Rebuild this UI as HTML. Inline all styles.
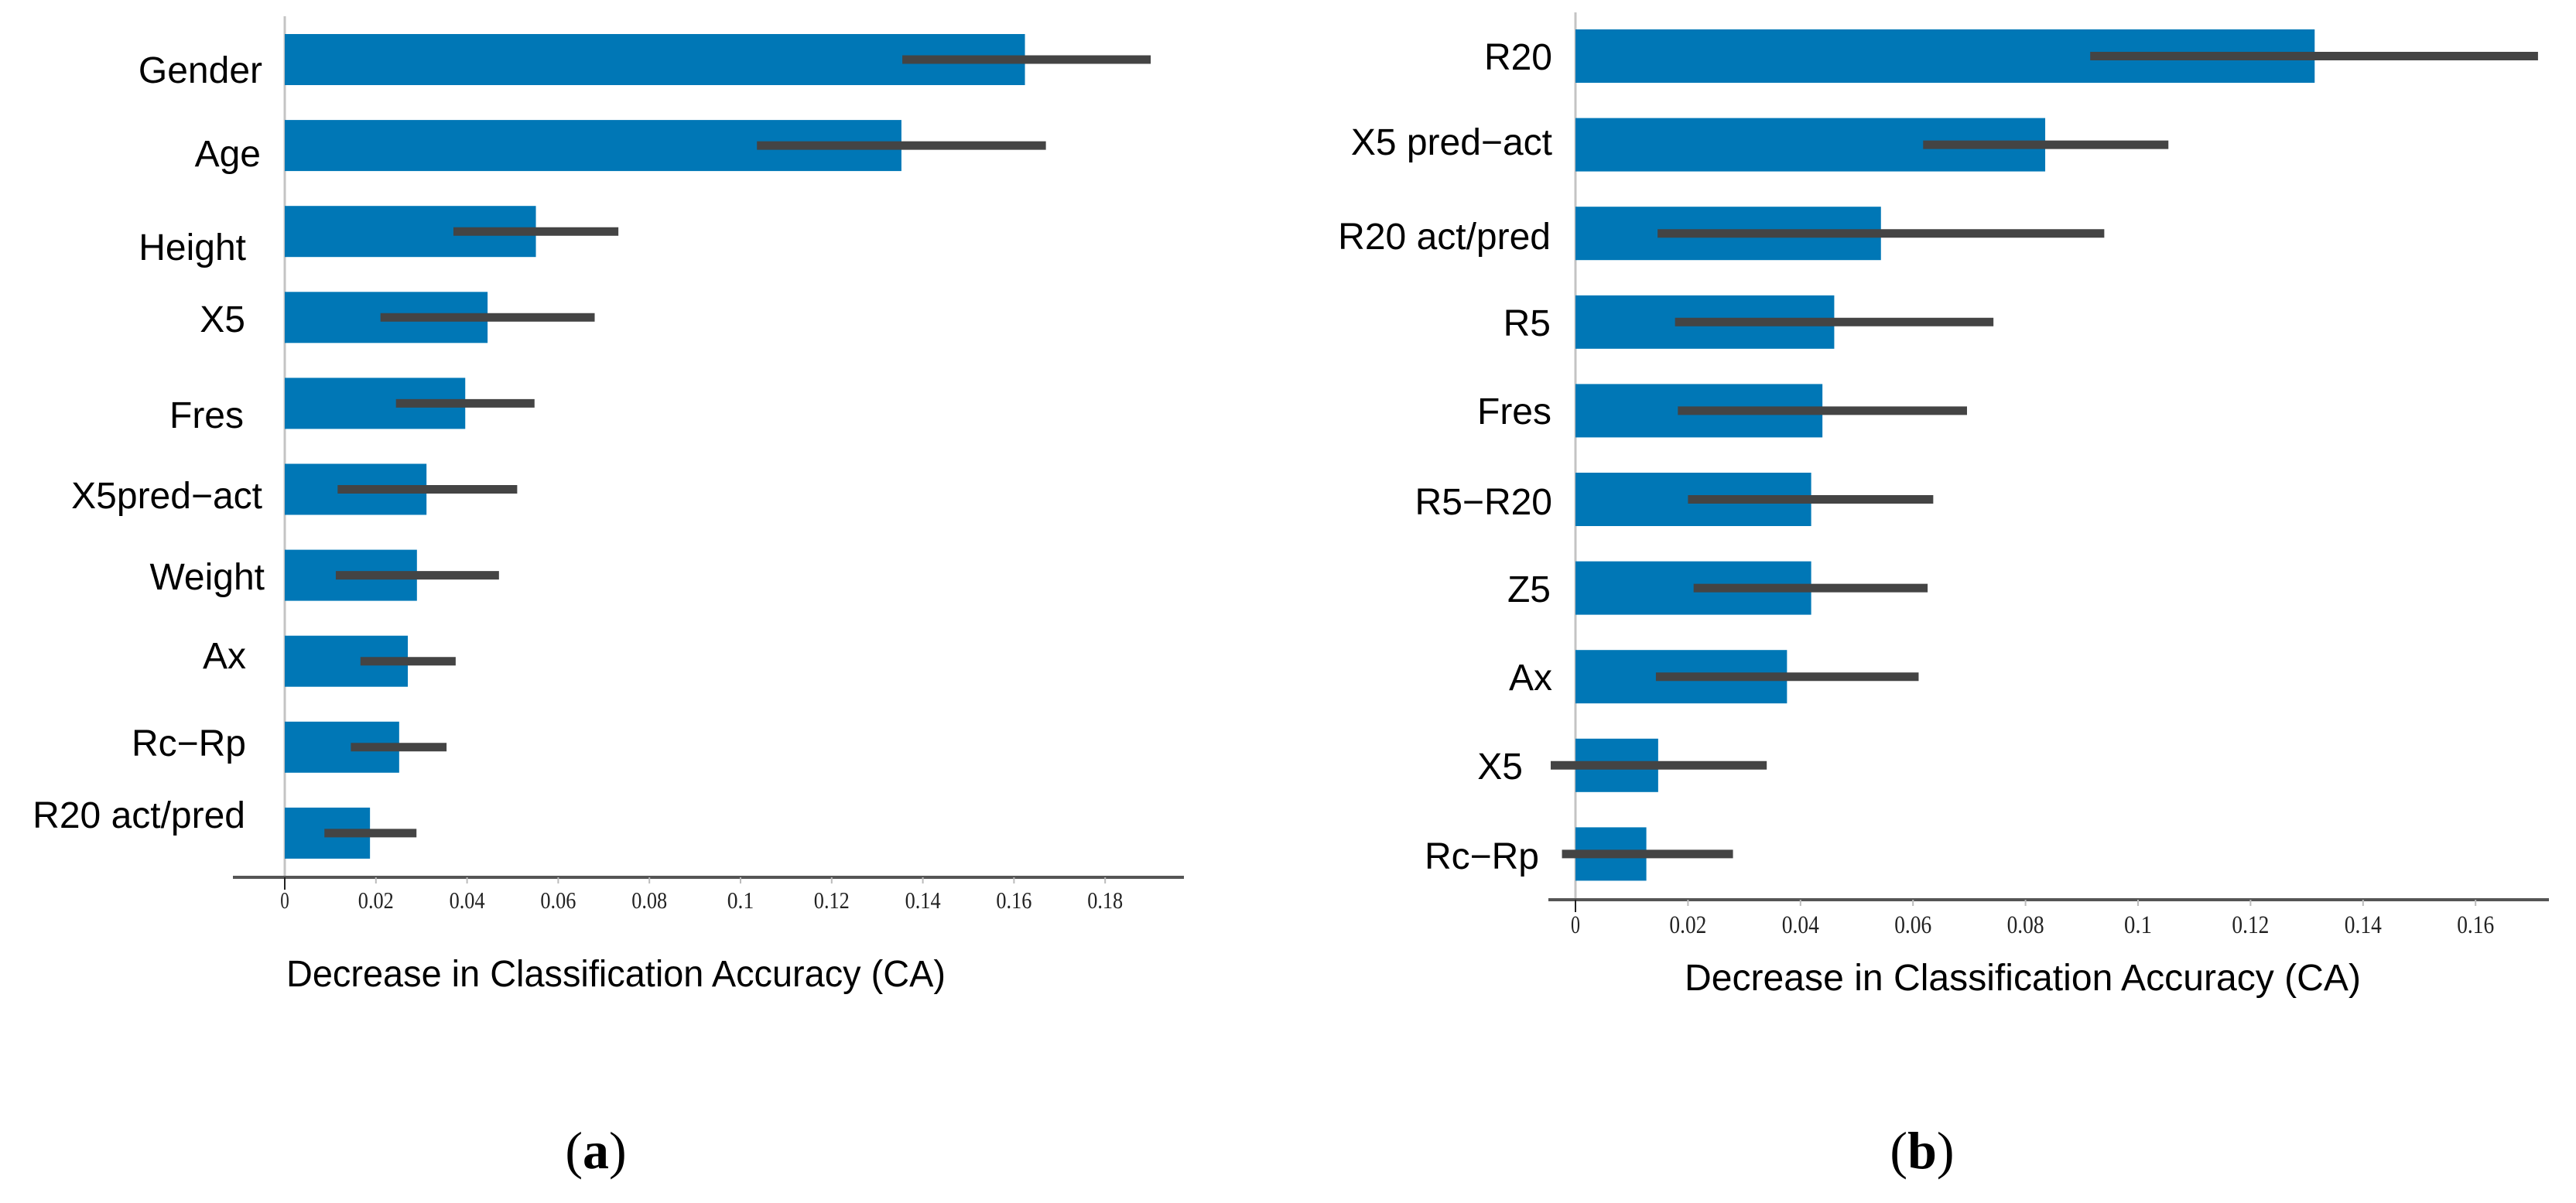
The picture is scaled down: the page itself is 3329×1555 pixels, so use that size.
<!DOCTYPE html>
<html><head><meta charset="utf-8">
<style>
html,body{margin:0;padding:0;background:#fff;}
svg{display:block;}
</style></head>
<body>
<svg id="fig" width="3329" height="1555" viewBox="0 0 3329 1555" xmlns="http://www.w3.org/2000/svg"></svg>
<script>
// Panel (a) data
const catsA = ["Gender","Age","Height","X5","Fres","X5pred\u2212act","Weight","Ax","Rc\u2212Rp","R20 act/pred"];
const valsA = [0.1624,0.1353,0.0551,0.0445,0.0396,0.0311,0.0290,0.0270,0.0251,0.0187];
const errLoA = [0.1355,0.1036,0.0370,0.0210,0.0244,0.0116,0.0112,0.0166,0.0145,0.0087];
const errHiA = [0.1900,0.1670,0.0732,0.0680,0.0548,0.0510,0.0470,0.0375,0.0355,0.0289];
const ticksA = ["0","0.02","0.04","0.06","0.08","0.1","0.12","0.14","0.16","0.18"];
const tickValsA = [0,0.02,0.04,0.06,0.08,0.1,0.12,0.14,0.16,0.18];
// Panel (b) data
const catsB = ["R20","X5 pred\u2212act","R20 act/pred","R5","Fres","R5\u2212R20","Z5","Ax","X5","Rc\u2212Rp"];
const valsB = [0.1314,0.0835,0.0543,0.0460,0.0439,0.0419,0.0419,0.0376,0.0147,0.0126];
const errLoB = [0.0915,0.0618,0.0146,0.0177,0.0182,0.0200,0.0210,0.0143,-0.0044,-0.0024];
const errHiB = [0.1711,0.1054,0.0940,0.0743,0.0696,0.0636,0.0626,0.0610,0.0340,0.0280];
const ticksB = ["0","0.02","0.04","0.06","0.08","0.1","0.12","0.14","0.16"];
const tickValsB = [0,0.02,0.04,0.06,0.08,0.1,0.12,0.14,0.16];

const NS="http://www.w3.org/2000/svg";
const svg=document.getElementById('fig');
function mk(tag,attrs,parent){const e=document.createElementNS(NS,tag);for(const k in attrs)e.setAttribute(k,attrs[k]);(parent||svg).appendChild(e);return e;}

function panel(cfg){
  const g=mk('g',{});
  
  
  const x=v=>cfg.x0+v*cfg.pxPerUnit;
  const y=i=>cfg.top+i*cfg.step;
  const ya=mk('line',{x1:cfg.x0,y1:cfg.yTop,x2:cfg.x0,y2:cfg.axisY,stroke:'#c4c4c4','stroke-width':3},g);
  
  
  cfg.cats.forEach((c,i)=>{
    const r=mk('rect',{x:x(0),y:y(i),width:x(cfg.vals[i])-x(0),height:cfg.barH,fill:'#0077b6'},g);
    
    
    const cy=y(i)+cfg.barH/2;
    const e=mk('line',{x1:x(cfg.lo[i]),y1:cy,x2:x(cfg.hi[i]),y2:cy,stroke:'#444','stroke-width':11},g);
    
    
    const t=mk('text',{x:cfg.labelX[i],y:cfg.labelBase[i],'text-anchor':'end','font-family':'Liberation Sans, sans-serif','font-size':cfg.labelSize,fill:'#000'},g);
    t.textContent=c;
    
    
  });
  const xa=mk('line',{x1:cfg.axL,y1:cfg.axisY,x2:cfg.axR,y2:cfg.axisY,stroke:'#555','stroke-width':4},g);
  
  
  cfg.tickVals.forEach((v,i)=>{
    const tk=mk('line',{x1:x(v),y1:cfg.axisY,x2:x(v),y2:cfg.axisY+(i===0?16:8),stroke:i===0?'#222':'#bbb','stroke-width':2},g);
    
    
    const s=cfg.ticks[i];
    const tl=mk('text',{x:x(v),y:cfg.tickBase,'text-anchor':'middle','font-family':'Liberation Serif, serif','font-size':cfg.tickSize,fill:'#222',textLength:s.length*cfg.tickCharW,lengthAdjust:'spacingAndGlyphs'},g);
    tl.textContent=s;
    
    
  });
  const tt=mk('text',{x:cfg.titleX,y:cfg.titleBase,'font-family':'Liberation Sans, sans-serif','font-size':48,fill:'#000',textLength:cfg.titleW,lengthAdjust:'spacingAndGlyphs'},g);
  tt.textContent='Decrease in Classification Accuracy (CA)';
  
  
  const pl=mk('text',{x:cfg.capX,y:1510,'text-anchor':'middle','font-family':'Liberation Serif, serif','font-size':68,fill:'#000'},g);
  const t1=mk('tspan',{},pl);t1.textContent='(';
  const t2=mk('tspan',{'font-weight':'bold'},pl);t2.textContent=cfg.cap;
  const t3=mk('tspan',{},pl);t3.textContent=')';
  
  
}

panel({name:'panel-a',cats:catsA,vals:valsA,lo:errLoA,hi:errHiA,ticks:ticksA,tickVals:tickValsA,
  x0:368,pxPerUnit:5890,top:44,step:111.1,barH:66,yTop:21,axisY:1134,axL:301,axR:1530,
  labelX:[339,337,318,317,315,339,342,318,318,317],
  labelBase:[107,215,336,429,553,657,762,864,977,1070],labelSize:48,
  tickBase:1174,tickSize:31,tickCharW:11.5,titleX:370,titleW:852,titleBase:1275,capX:770,cap:'a'});
panel({name:'panel-b',cats:catsB,vals:valsB,lo:errLoB,hi:errHiB,ticks:ticksB,tickVals:tickValsB,
  x0:2036,pxPerUnit:7270,top:38,step:114.6,barH:69,yTop:16,axisY:1163,axL:2001,axR:3294,
  labelX:[2006,2006,2004,2004,2005,2006,2004,2006,1968,1989],
  labelBase:[90,200,322,434,548,665,778,892,1007,1123],labelSize:48,
  tickBase:1206,tickSize:33,tickCharW:12,titleX:2177,titleW:874,titleBase:1280,capX:2484,cap:'b'});
</script>
</body></html>
